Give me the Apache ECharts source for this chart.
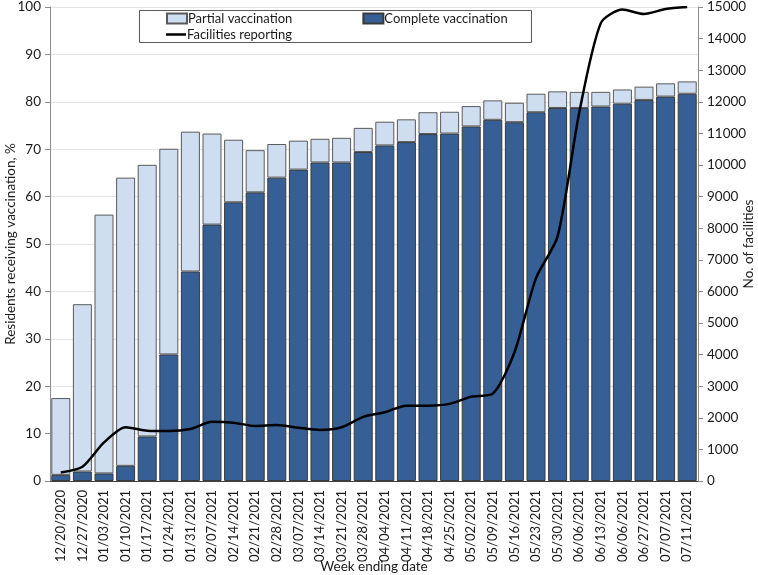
<!DOCTYPE html>
<html>
<head>
<meta charset="utf-8">
<script src="https://cdn.jsdelivr.net/npm/echarts@6/dist/echarts.min.js"></script>
<style>
html,body{margin:0;padding:0;background:#fff;}
#chart{width:758px;height:575px;}
</style>
</head>
<body>
<div id="chart"></div>
<script>
const categories = ['12/20/2020','12/27/2020','01/03/2021','01/10/2021','01/17/2021','01/24/2021','01/31/2021','02/07/2021','02/14/2021','02/21/2021','02/28/2021','03/07/2021','03/14/2021','03/21/2021','03/28/2021','04/04/2021','04/11/2021','04/18/2021','04/25/2021','05/02/2021','05/09/2021','05/16/2021','05/23/2021','05/30/2021','06/06/2021','06/13/2021','06/06/2021','06/27/2021','07/07/2021','07/11/2021'];
const completeVaccination = [1.3,2.0,1.6,3.2,9.4,26.7,44.2,54.1,58.8,60.9,64.0,65.7,67.2,67.2,69.4,70.8,71.5,73.2,73.3,74.8,76.2,75.7,77.8,78.7,78.7,79.0,79.6,80.4,81.1,81.7];
const partialVaccination = [16.2,35.3,54.6,60.8,57.3,43.4,29.5,19.2,13.2,8.9,7.1,6.1,5.0,5.2,5.1,5.0,4.8,4.6,4.6,4.3,4.1,4.1,3.9,3.5,3.4,3.1,3.0,2.8,2.8,2.6];
const facilitiesReporting = [270,450,1220,1700,1590,1580,1645,1875,1845,1740,1770,1685,1615,1700,2030,2175,2385,2385,2440,2670,2765,4065,6420,7740,11650,14490,14920,14780,14935,15000];

const FONT = 'Lato';
const TXT = '#1a1a1a';
const chart = echarts.init(document.getElementById('chart'), null, {renderer: 'canvas'});
chart.setOption({
  animation: false,
  backgroundColor: '#fff',
  textStyle: {fontFamily: FONT},
  grid: {left: 50, right: 60, top: 7, bottom: 94, outerBoundsMode: 'none', containLabel: false},
  graphic: [{
    type: 'rect', z: 3,
    shape: {x: 139.5, y: 10.5, width: 392, height: 32},
    style: {fill: '#fff', stroke: '#595959', lineWidth: 1}
  }],
  legend: [{
    z: 5,
    left: 166, top: 12,
    padding: 0,
    itemGap: 70,
    itemWidth: 20, itemHeight: 10,
    data: [
      {name: 'Partial vaccination', icon: 'rect'},
      {name: 'Complete vaccination', icon: 'rect'}
    ],
    textStyle: {fontFamily: FONT, fontSize: 13, color: TXT, padding: [0,0,0,-4]}
  }, {
    z: 5,
    left: 166, top: 28,
    padding: 0,
    itemWidth: 20, itemHeight: 2.5,
    data: [{name: 'Facilities reporting', icon: 'rect'}],
    textStyle: {fontFamily: FONT, fontSize: 13, color: TXT, padding: [0,0,0,-4]}
  }],
  xAxis: {
    type: 'category',
    data: categories,
    name: 'Week ending date',
    nameLocation: 'middle',
    nameGap: 79,
    nameMoveOverlap: false,
    nameTextStyle: {fontFamily: FONT, fontSize: 13.5, color: TXT},
    axisLine: {lineStyle: {color: '#404040', width: 1}},
    axisTick: {show: false},
    axisLabel: {interval: 0, rotate: 90, fontFamily: FONT, fontSize: 13, color: TXT, margin: 9}
  },
  yAxis: [{
    type: 'value', min: 0, max: 100, interval: 10,
    name: 'Residents receiving vaccination, %',
    nameLocation: 'middle', nameGap: 32,
    nameMoveOverlap: false,
    nameTextStyle: {fontFamily: FONT, fontSize: 13.5, color: TXT},
    axisLine: {show: true, lineStyle: {color: '#8c8c8c'}},
    axisTick: {show: true, length: 5, lineStyle: {color: '#8c8c8c'}},
    axisLabel: {fontFamily: FONT, fontSize: 13.5, color: TXT, margin: 9},
    splitLine: {show: true, lineStyle: {color: '#e3e3e3', width: 1}}
  }, {
    type: 'value', min: 0, max: 15000, interval: 1000,
    name: 'No. of facilities',
    nameLocation: 'middle', nameGap: 44, nameRotate: 90,
    nameMoveOverlap: false,
    nameTextStyle: {fontFamily: FONT, fontSize: 13.5, color: TXT},
    axisLine: {show: true, lineStyle: {color: '#8c8c8c'}},
    axisTick: {show: true, length: 5, lineStyle: {color: '#8c8c8c'}},
    axisLabel: {fontFamily: FONT, fontSize: 13.5, color: TXT, margin: 9, formatter: v => String(v)},
    splitLine: {show: false}
  }],
  series: [{
    name: 'Complete vaccination',
    type: 'bar', stack: 'v',
    data: completeVaccination,
    barCategoryGap: '12%',
    itemStyle: {color: '#355f95', borderColor: '#3a3a3a', borderWidth: 1}
  }, {
    name: 'Partial vaccination',
    type: 'bar', stack: 'v',
    data: partialVaccination,
    barCategoryGap: '12%',
    itemStyle: {color: '#cfddf1', borderColor: '#5a5a5a', borderWidth: 1}
  }, {
    name: 'Facilities reporting',
    type: 'line', yAxisIndex: 1,
    data: facilitiesReporting,
    smooth: 0.25,
    symbol: 'none',
    z: 4,
    lineStyle: {color: '#000', width: 2.5},
    itemStyle: {color: '#000'}
  }]
});
</script>
</body>
</html>
